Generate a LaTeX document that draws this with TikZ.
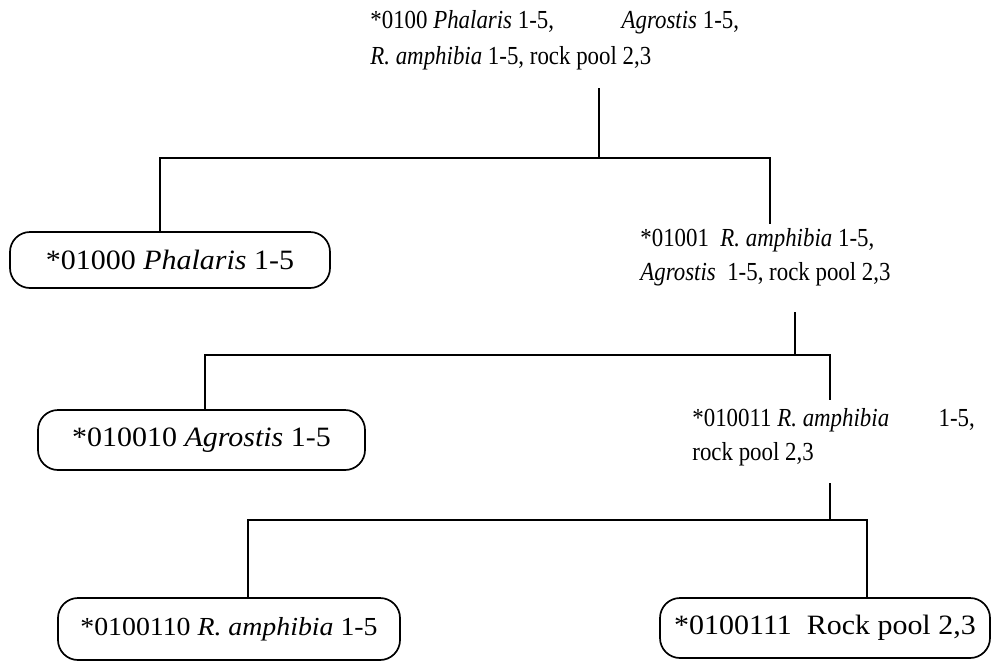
\documentclass[tikz,border=0pt]{standalone}
\usepackage{fontspec}
\setmainfont[FakeStretch=1.07]{Liberation Serif}
\newfontfamily\freefont[FakeStretch=0.88]{Liberation Serif}
\begin{document}
\begin{tikzpicture}[x=0.5pt,y=-0.5pt,
  lbl/.style={inner sep=0pt, align=left, anchor=north west, font=\freefont\fontsize{13}{17}\selectfont},
  leaf/.style={draw, rounded corners=10pt, line width=0.85pt, inner sep=0pt, align=center, font=\fontsize{14}{17.5}\selectfont},
  conn/.style={line width=0.85pt}]
\useasboundingbox (0,0) rectangle (1000,665);
% text nodes
\node[lbl, font=\freefont\fontsize{13}{18}\selectfont] (n0100) at (370,10) {*0100 \textit{Phalaris} 1-5,\hspace{2.6em}\textit{Agrostis} 1-5,\\\textit{R. amphibia} 1-5, rock pool 2,3};
\node[lbl] (n01001) at (640,228) {*01001\ \ \textit{R. amphibia} 1-5,\\\textit{Agrostis}\ \ 1-5, rock pool 2,3};
\node[lbl] (n010011) at (692,408) {*010011 \textit{R. amphibia}\hspace{1.9em}1-5,\\rock pool 2,3};
% leaves
\node[leaf, minimum width=160pt, minimum height=28pt] (n01000) at (170,260) {*01000 \textit{Phalaris} 1-5};
\node[leaf, minimum width=163.5pt, minimum height=30pt] (n010010) at (201.5,440) {*010010 \textit{Agrostis} 1-5};
\node[leaf, minimum width=171pt, minimum height=31pt, font=\fontsize{13}{17.5}\selectfont] (n0100110) at (229,629) {*0100110 \textit{R. amphibia} 1-5};
\node[leaf, minimum width=165pt, minimum height=30pt, font=\fontsize{14}{17.5}\selectfont] (n0100111) at (825,628) {*0100111\ \ Rock pool 2,3};
% connector coordinates
\coordinate (s1) at (599,88);
\coordinate (j1) at (599,158);
\coordinate (b1l) at (160,158);
\coordinate (b1r) at (770,158);
\coordinate (e1) at (770,224);
\coordinate (s2) at (795,312);
\coordinate (j2) at (795,355);
\coordinate (b2l) at (205,355);
\coordinate (b2r) at (830,355);
\coordinate (e2) at (830,400);
\coordinate (s3) at (830,483);
\coordinate (j3) at (830,520);
\coordinate (b3l) at (248,520);
\coordinate (b3r) at (867,520);
% connectors
\draw[conn] (s1) -- (j1);
\draw[conn] (n01000.north -| b1l) -- (b1l) -- (b1r) -- (e1);
\draw[conn] (s2) -- (j2);
\draw[conn] (n010010.north -| b2l) -- (b2l) -- (b2r) -- (e2);
\draw[conn] (s3) -- (j3);
\draw[conn] (n0100110.north -| b3l) -- (b3l) -- (b3r) -- (n0100111.north -| b3r);
\end{tikzpicture}
\end{document}
